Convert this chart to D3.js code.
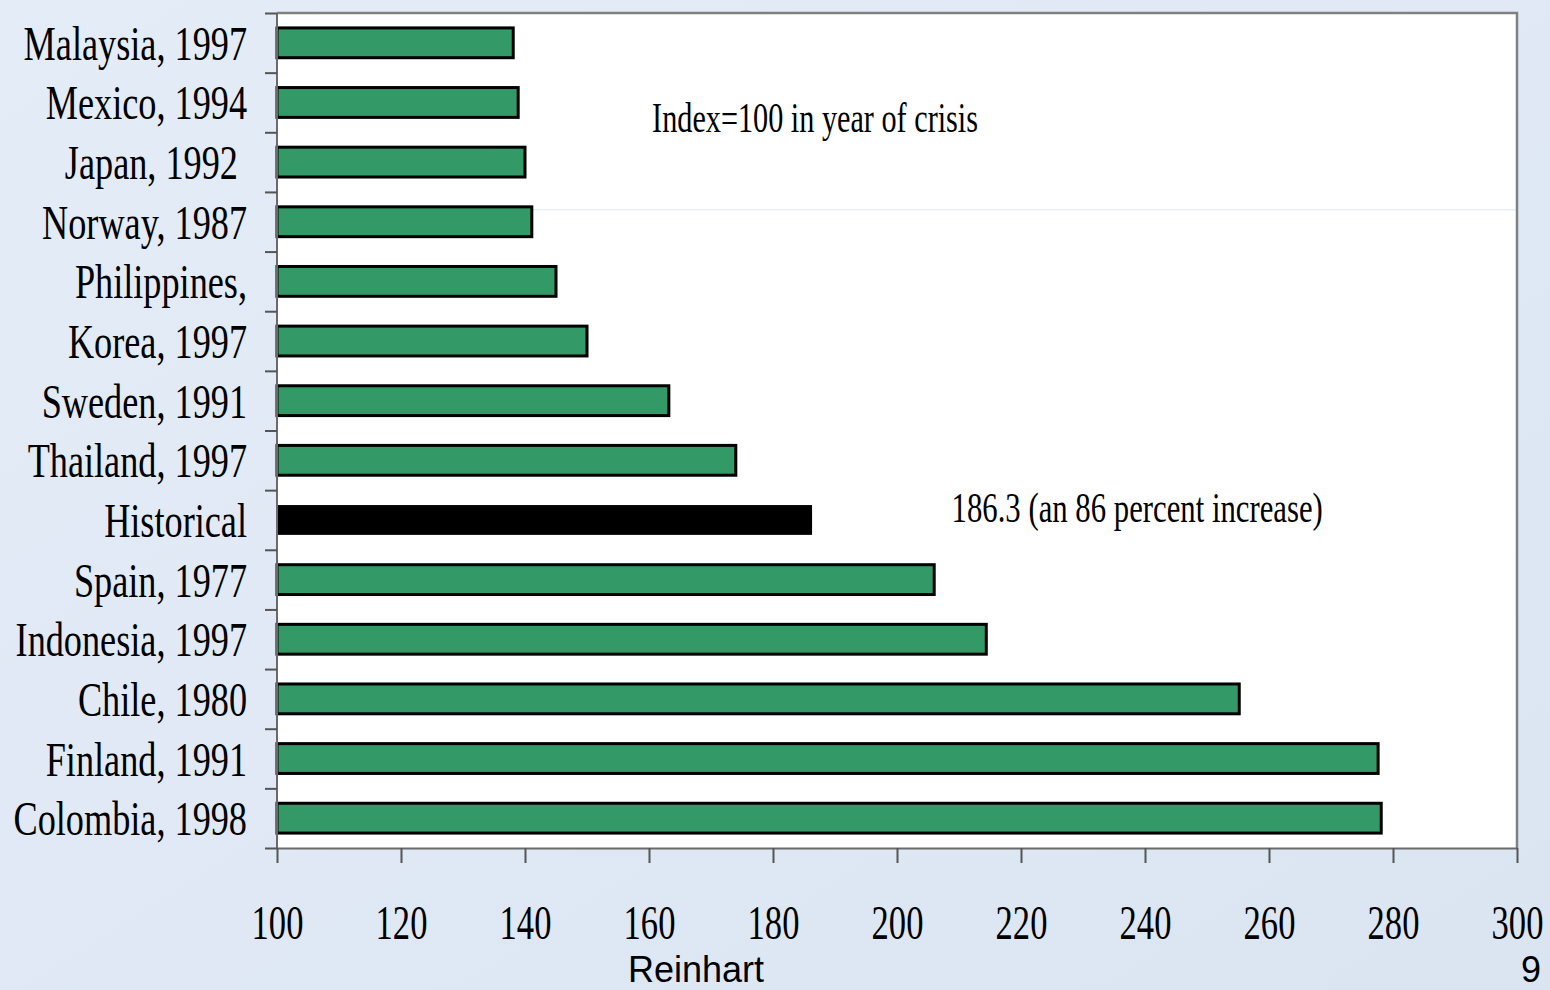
<!DOCTYPE html>
<html>
<head>
<meta charset="utf-8">
<script src="https://cdn.jsdelivr.net/npm/d3@7"></script>
<style>
  html, body { margin: 0; padding: 0; background: #dfe8f4; }
  svg { display: block; }
</style>
</head>
<body>
<div id="chart"></div>
<script>
'use strict';

// crisis episodes, top to bottom
const categories = [
  'Malaysia, 1997', 'Mexico, 1994', 'Japan, 1992 ', 'Norway, 1987', 'Philippines,',
  'Korea, 1997', 'Sweden, 1991', 'Thailand, 1997', 'Historical', 'Spain, 1977',
  'Indonesia, 1997', 'Chile, 1980', 'Finland, 1991', 'Colombia, 1998'
];
const values = [
  138.1, 138.9, 140.0, 141.1, 145.0,
  150.0, 163.2, 174.0, 186.3, 206.0,
  214.4, 255.2, 277.6, 278.1
];
const highlight = ['Historical'];
const xTicks = [100, 120, 140, 160, 180, 200, 220, 240, 260, 280, 300];
const notes = ['Index=100 in year of crisis', '186.3 (an 86 percent increase)'];

const width = 1550, height = 990;
const margin = [13, 142, 277, 33]; // top, bottom, left, right
const innerW = width - margin[2] - margin[3];
const innerH = height - margin[0] - margin[1];

const svg = d3.select('#chart').append('svg')
  .attr('width', width)
  .attr('height', height);

const defs = svg.append('defs');
const grad = defs.append('linearGradient')
  .attr('id', 'bg').attr('x1', 0).attr('y1', 0).attr('x2', 1).attr('y2', 1);
grad.append('stop').attr('offset', '0%').attr('stop-color', '#e4ecf7');
grad.append('stop').attr('offset', '100%').attr('stop-color', '#dbe5f2');

svg.append('rect')
  .attr('width', width).attr('height', height)
  .attr('fill', 'url(#bg)');

const chart = svg.append('g')
  .attr('transform', `translate(${margin[2]},${margin[0]})`);

const x = d3.scaleLinear().domain([100, 300]).range([0, innerW]);
const y = d3.scaleBand().domain(categories).range([0, innerH]).paddingInner(0.5).paddingOuter(0.25);
const yEdge = d3.scaleLinear().domain([0, categories.length]).range([0, innerH]);

// plot area
chart.append('rect')
  .attr('width', innerW).attr('height', innerH)
  .attr('fill', '#ffffff');

// faint line left over from the slide
chart.append('line')
  .attr('x1', 0).attr('x2', innerW)
  .attr('y1', yEdge(3.3)).attr('y2', yEdge(3.3))
  .attr('stroke', '#dde6f2').attr('stroke-width', 1);

// frame, top and right
chart.append('path')
  .attr('d', `M0,0H${innerW}V${innerH}`)
  .attr('fill', 'none')
  .attr('stroke', '#808080')
  .attr('stroke-width', 2.5);

// bars
chart.append('g').selectAll('rect')
  .data(categories)
  .join('rect')
  .attr('x', x(100))
  .attr('y', d => y(d))
  .attr('width', (d, i) => x(values[i]) - x(100))
  .attr('height', y.bandwidth())
  .attr('fill', d => highlight.includes(d) ? '#000000' : '#339966')
  .attr('stroke', '#000000')
  .attr('stroke-width', d => highlight.includes(d) ? 0 : 3);

// x axis
const xAxis = chart.append('g')
  .attr('transform', `translate(0,${innerH})`)
  .call(d3.axisBottom(x).tickValues(xTicks).tickSize(15).tickSizeOuter(0));
xAxis.select('.domain').attr('stroke', '#6a6a6a').attr('stroke-width', 2);
xAxis.selectAll('.tick line').attr('stroke', '#555').attr('stroke-width', 2);
xAxis.selectAll('.tick text')
  .attr('y', null).attr('dy', null)
  .attr('transform', 'translate(0,91) scale(0.72,1)')
  .attr('font-family', '"Liberation Serif", "Times New Roman", serif')
  .attr('font-size', 48)
  .attr('fill', '#000');

// y axis: ticks on category edges
const yAxis = chart.append('g')
  .call(d3.axisLeft(yEdge).tickValues(d3.range(categories.length + 1)).tickSize(12).tickFormat(''));
yAxis.select('.domain').attr('stroke', '#6a6a6a').attr('stroke-width', 2).attr('d', `M0,0V${innerH}`);
yAxis.selectAll('.tick line').attr('stroke', '#555').attr('stroke-width', 2);

// category labels
chart.append('g').selectAll('text')
  .data(categories)
  .join('text')
  .attr('transform', d => `translate(-30,${y(d) + y.bandwidth() / 2 + 17}) scale(0.755,1)`)
  .attr('text-anchor', 'end')
  .style('white-space', 'pre')
  .attr('font-family', '"Liberation Serif", "Times New Roman", serif')
  .attr('font-size', 48)
  .attr('fill', '#000')
  .text(d => d);

// notes
chart.append('text')
  .attr('transform', `translate(${x(160.5)},${yEdge(2) - 0.1}) scale(0.72,1)`)
  .attr('font-family', '"Liberation Serif", "Times New Roman", serif')
  .attr('font-size', 42)
  .attr('fill', '#000')
  .text(notes[0]);

chart.append('text')
  .attr('transform', `translate(${x(208.8)},${y('Historical') + y.bandwidth() / 2 + 2}) scale(0.732,1)`)
  .attr('font-family', '"Liberation Serif", "Times New Roman", serif')
  .attr('font-size', 42)
  .attr('fill', '#000')
  .text(notes[1]);

// footer
svg.append('text')
  .attr('x', 628).attr('y', 982)
  .attr('font-family', '"Liberation Sans", Arial, sans-serif')
  .attr('font-size', 36)
  .attr('fill', '#000')
  .text('Reinhart');

svg.append('text')
  .attr('x', 1541).attr('y', 982)
  .attr('text-anchor', 'end')
  .attr('font-family', '"Liberation Sans", Arial, sans-serif')
  .attr('font-size', 36)
  .attr('fill', '#000')
  .text('9');
</script>
</body>
</html>
